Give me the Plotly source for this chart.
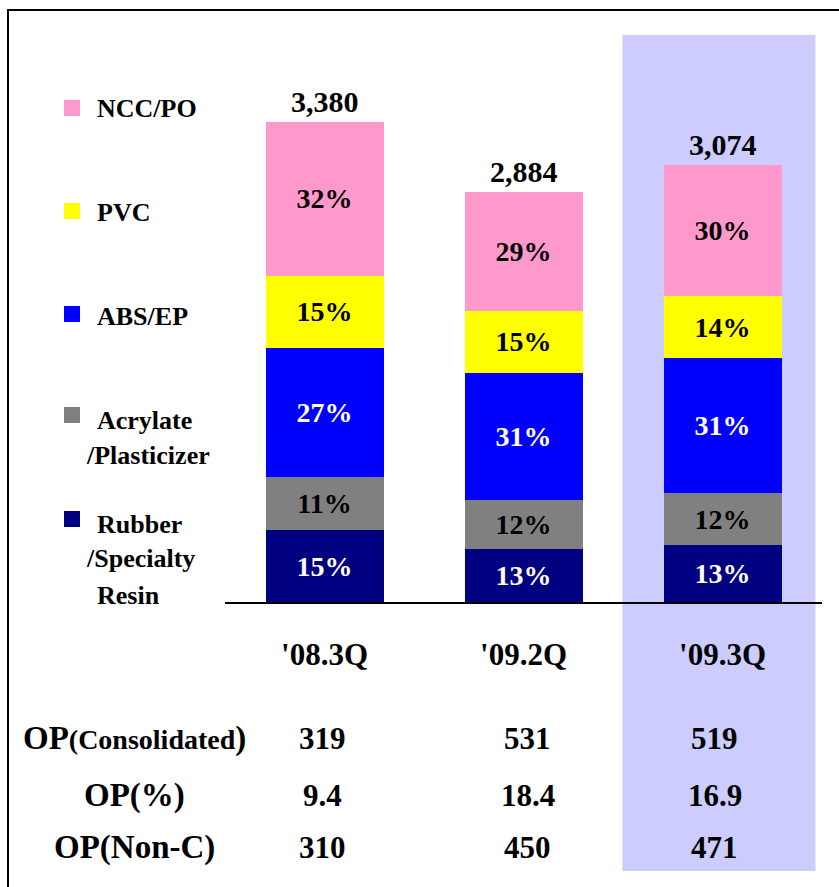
import plotly.graph_objects as go

categories = ["'08.3Q", "'09.2Q", "'09.3Q"]
totals = [3380, 2884, 3074]
series = ["Rubber/Specialty Resin", "Acrylate/Plasticizer", "ABS/EP", "PVC", "NCC/PO"]
rubber_pct = [15, 13, 13]
acrylate_pct = [11, 12, 12]
abs_pct = [27, 31, 31]
pvc_pct = [15, 15, 14]
ncc_pct = [32, 29, 30]
op_consolidated = ["319", "531", "519"]
op_ratio = ["9.4", "18.4", "16.9"]
op_nonc = ["310", "450", "471"]
row_labels = ["OP<span style='font-size:28px'>(Consolidated</span>)", "OP(%)", "OP(Non-C)"]
legend_lines = [["NCC/PO"], ["PVC"], ["ABS/EP"], ["Acrylate", "/Plasticizer"],
                ["Rubber", "/Specialty", "Resin"]]

pcts = [rubber_pct, acrylate_pct, abs_pct, pvc_pct, ncc_pct]
colors = ["#000080", "#808080", "#0000FF", "#FFFF00", "#FF99CC"]
text_colors = ["white", "black", "white", "black", "black"]

W, H = 839, 887
L, R, T, B = 225, 17, 34, 285
PW, PH = W - L - R, H - T - B
SERIF = "Liberation Serif"


def px(x):
    return (x - L) / PW


def py(y):
    return (H - B - y) / PH


fig = go.Figure()
xs = list(range(len(categories)))
for name, pc, col, tc in zip(series, pcts, colors, text_colors):
    fig.add_trace(go.Bar(
        x=xs, y=[t * p / 100 for t, p in zip(totals, pc)], name=name,
        marker=dict(color=col, line=dict(width=0)),
        text=[f"{p}%" for p in pc], textposition="inside", insidetextanchor="middle",
        constraintext="none",
        textfont=dict(family=SERIF, size=28, color=tc, weight="bold"),
        hoverinfo="skip", showlegend=False))

shapes = []
# highlight band for latest quarter
shapes.append(dict(type="rect", xref="x", yref="paper", x0=1.497, x1=2.467,
                   y0=py(871), y1=py(35), fillcolor="#CCCCFF", line=dict(width=0), layer="below"))
# frame (left and top borders)
shapes.append(dict(type="path", xref="paper", yref="paper",
                   path=f"M {px(8)} {py(900)} L {px(8)} {py(10)} L {px(860)} {py(10)}",
                   line=dict(color="black", width=2), layer="above"))

annotations = []
for i, t in enumerate(totals):
    annotations.append(dict(x=i, y=t, xref="x", yref="y", text=f"<b>{t:,}</b>", showarrow=False,
                            yanchor="bottom", yshift=2,
                            font=dict(family=SERIF, size=30, color="black")))

# custom legend
legend_square_y = [108, 211, 314, 415, 519]
legend_line_y = [[108], [213], [316], [421, 455], [524, 558, 595]]
legend_colors = ["#FF99CC", "#FFFF00", "#0000FF", "#808080", "#000080"]
for sy, lines, ly, col in zip(legend_square_y, legend_lines, legend_line_y, legend_colors):
    shapes.append(dict(type="rect", xref="paper", yref="paper", x0=px(64), x1=px(80),
                       y0=py(sy + 8), y1=py(sy - 8), fillcolor=col, line=dict(width=0)))
    for txt, yy in zip(lines, ly):
        xpos = 84 if txt.startswith("/") else 95
        annotations.append(dict(x=px(xpos), y=py(yy), xref="paper", yref="paper", text=f"<b>{txt}</b>",
                                showarrow=False, xanchor="left", yanchor="middle",
                                font=dict(family=SERIF, size=26, color="black")))

# table below
row_y = [738, 795, 847]
col_shift = [-2, 4, -8]
for lab, vals, yy in zip(row_labels, [op_consolidated, op_ratio, op_nonc], row_y):
    annotations.append(dict(x=px(134), y=py(yy), xref="paper", yref="paper", text=f"<b>{lab}</b>",
                            showarrow=False, xanchor="center", yanchor="middle",
                            font=dict(family=SERIF, size=33, color="black")))
    for i, v in enumerate(vals):
        annotations.append(dict(x=i, y=py(yy), xref="x", yref="paper", text=f"<b>{v}</b>",
                                showarrow=False, xanchor="center", yanchor="middle", xshift=col_shift[i],
                                font=dict(family=SERIF, size=31, color="black")))

fig.update_layout(
    width=W, height=H, margin=dict(l=L, r=R, t=T, b=B, pad=0),
    barmode="stack", bargap=0.407,
    paper_bgcolor="white", plot_bgcolor="rgba(0,0,0,0)",
    xaxis=dict(range=[-0.5, 2.5], tickmode="array", tickvals=xs, ticktext=[f"<b>{c}</b>" for c in categories],
               showline=True, linecolor="black", linewidth=2, showgrid=False, zeroline=False,
               ticks="outside", ticklen=24, tickcolor="rgba(0,0,0,0)",
               tickfont=dict(family=SERIF, size=31, color="black")),
    yaxis=dict(range=[0, 4000], visible=False, showgrid=False),
    shapes=shapes, annotations=annotations, showlegend=False,
)
fig.write_html("out.html", config={"displayModeBar": False},
               post_script="document.body.style.margin='0';document.body.style.overflow='hidden';")
